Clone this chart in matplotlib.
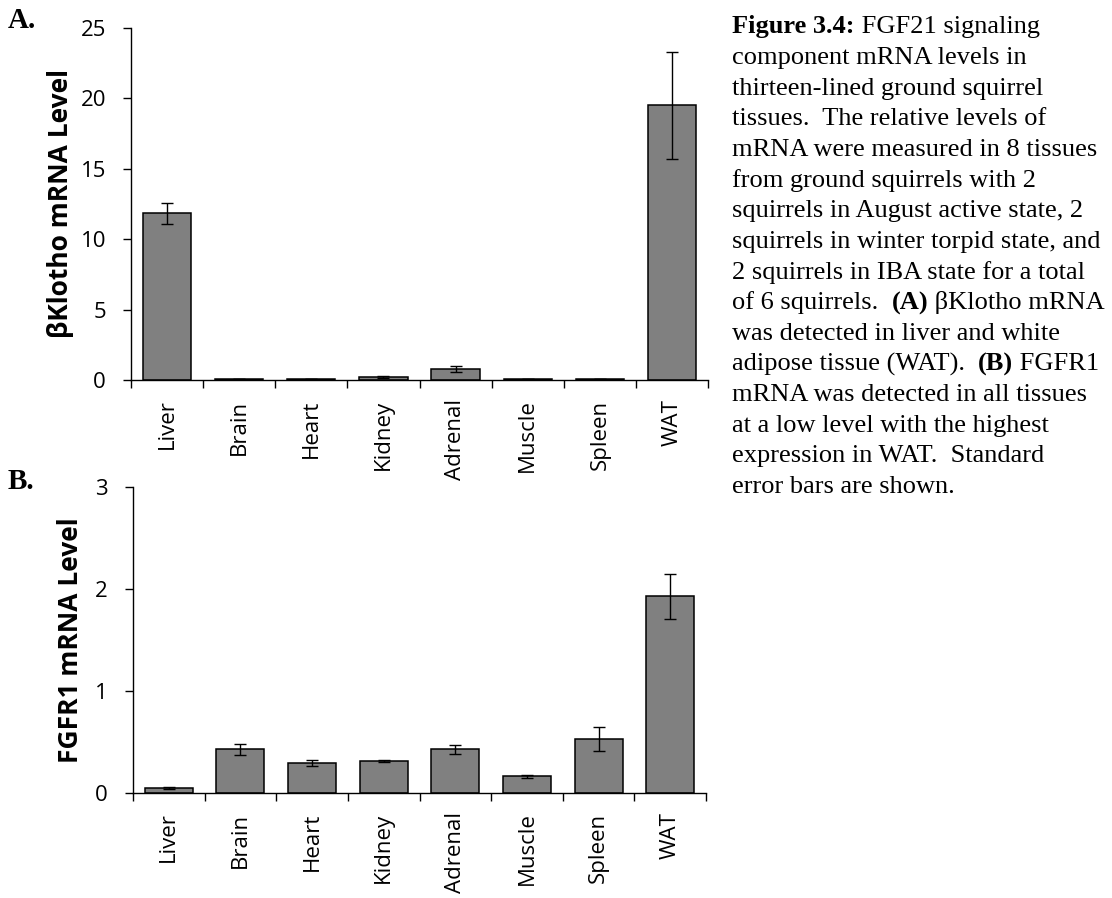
import numpy as np
import matplotlib
matplotlib.use("Agg")
import matplotlib.pyplot as plt

W, H = 1112, 898

tissues = ["Liver", "Brain", "Heart", "Kidney", "Adrenal", "Muscle", "Spleen", "WAT"]

klotho_mean = [11.85, 0.08, 0.06, 0.22, 0.80, 0.06, 0.05, 19.5]
klotho_sem = [0.75, 0.01, 0.01, 0.05, 0.21, 0.01, 0.01, 3.8]

fgfr1_mean = [0.045, 0.43, 0.29, 0.31, 0.43, 0.165, 0.53, 1.93]
fgfr1_sem = [0.01, 0.053, 0.03, 0.01, 0.045, 0.015, 0.12, 0.22]

klotho_ticks = [0, 5, 10, 15, 20, 25]
fgfr1_ticks = [0, 1, 2, 3]

caption_lines = [
    [("Figure 3.4:", True), (" FGF21 signaling", False)],
    [("component mRNA levels in", False)],
    [("thirteen-lined ground squirrel", False)],
    [("tissues.  The relative levels of", False)],
    [("mRNA were measured in 8 tissues", False)],
    [("from ground squirrels with 2", False)],
    [("squirrels in August active state, 2", False)],
    [("squirrels in winter torpid state, and", False)],
    [("2 squirrels in IBA state for a total", False)],
    [("of 6 squirrels.  ", False), ("(A)", True), (" \u03b2Klotho mRNA", False)],
    [("was detected in liver and white", False)],
    [("adipose tissue (WAT).  ", False), ("(B)", True), (" FGFR1", False)],
    [("mRNA was detected in all tissues", False)],
    [("at a low level with the highest", False)],
    [("expression in WAT.  Standard", False)],
    [("error bars are shown.", False)],
]

plt.rcParams["font.family"] = ["Open Sans", "DejaVu Sans"]

fig = plt.figure(figsize=(W / 100, H / 100), dpi=100)


def px_axes(left, top, right, bottom):
    return fig.add_axes([left / W, 1 - bottom / H, (right - left) / W, (bottom - top) / H])


def panel(ax, means, sems, ticks, ylabel, label_x):
    x = np.arange(len(tissues)) + 0.5
    ax.bar(x, means, width=0.67, color="#808080", edgecolor="black",
           linewidth=1.1, zorder=2)
    ax.errorbar(x, means, yerr=sems, fmt="none", ecolor="black",
                elinewidth=1.0, capsize=4.5, capthick=1.0, zorder=3)
    ax.set_xlim(0, len(tissues))
    ax.set_ylim(ticks[0], ticks[-1])
    ax.set_xticks(np.arange(len(tissues) + 1))
    ax.set_xticklabels([])
    ax.set_xticks(x, minor=True)
    ax.set_xticklabels(tissues, minor=True, rotation=90, fontsize=16)
    ax.tick_params(axis="x", which="major", direction="out", length=6, width=1.0)
    ax.tick_params(axis="x", which="minor", length=0, pad=14)
    ax.set_yticks(ticks)
    ax.set_yticklabels([str(t) for t in ticks], fontsize=16)
    ax.tick_params(axis="y", direction="out", length=6, width=1.0, pad=12)
    for s in ("top", "right"):
        ax.spines[s].set_visible(False)
    for s in ("left", "bottom"):
        ax.spines[s].set_linewidth(1.0)
    ax.set_ylabel(ylabel, fontsize=19, fontweight="bold", va="center")
    ax.yaxis.set_label_coords(label_x, 0.5)


axA = px_axes(131, 28, 708, 380)
panel(axA, klotho_mean, klotho_sem, klotho_ticks, "\u03b2Klotho mRNA Level",
      (61 - 131) / (708 - 131))

axB = px_axes(133, 487, 706, 793)
panel(axB, fgfr1_mean, fgfr1_sem, fgfr1_ticks, "FGFR1 mRNA Level",
      (70 - 133) / (706 - 133))

serif = ["Liberation Serif", "DejaVu Serif"]
fig.text(8 / W, 1 - 28 / H, "A.", family=serif, fontweight="bold", fontsize=21, va="baseline")
fig.text(8 / W, 1 - 489 / H, "B.", family=serif, fontweight="bold", fontsize=21, va="baseline")

# Caption block with inline bold runs
renderer = fig.canvas.get_renderer()
cap_size = 19


def run_width(s, bold):
    kw = dict(family=serif, fontsize=cap_size, fontweight="bold" if bold else "normal")
    t1 = fig.text(0, 0, "X" + s + "X", **kw)
    t2 = fig.text(0, 0, "XX", **kw)
    w = t1.get_window_extent(renderer).width - t2.get_window_extent(renderer).width
    t1.remove()
    t2.remove()
    return w


x0, y0, step = 732, 33.3, 30.65
for i, runs in enumerate(caption_lines):
    xpos = x0
    ypos = y0 + i * step
    for s, bold in runs:
        fig.text(xpos / W, 1 - ypos / H, s, family=serif, fontsize=cap_size,
                 fontweight="bold" if bold else "normal", va="baseline", ha="left")
        xpos += run_width(s, bold)

fig.savefig("out.png", dpi=100)
